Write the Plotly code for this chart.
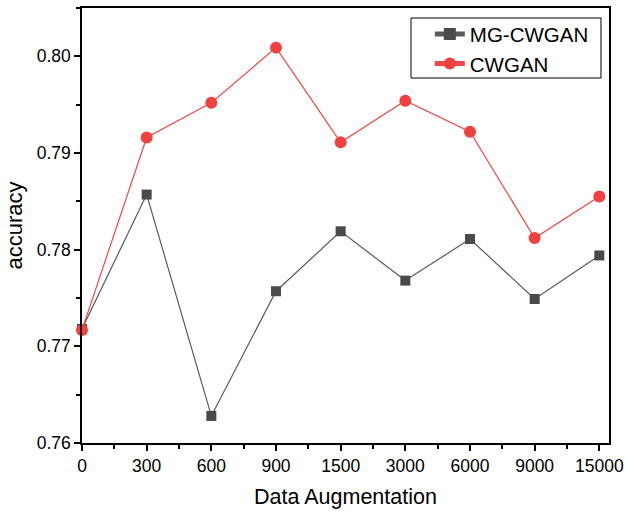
import plotly.graph_objects as go

categories = ["0", "300", "600", "900", "1500", "3000", "6000", "9000", "15000"]
mg_cwgan = [0.7718, 0.7857, 0.7628, 0.7757, 0.7819, 0.7768, 0.7811, 0.7749, 0.7794]
cwgan = [0.7717, 0.7916, 0.7952, 0.8009, 0.7911, 0.7954, 0.7922, 0.7812, 0.7855]
y_ticks = [0.76, 0.77, 0.78, 0.79, 0.80]

xs = list(range(len(categories)))
font = "Liberation Sans, Arial, sans-serif"

fig = go.Figure()
fig.add_trace(go.Scatter(
    x=xs, y=mg_cwgan, name="MG-CWGAN", mode="lines+markers",
    line=dict(color="#5a5a5a", width=1.2),
    marker=dict(symbol="square", size=10, color="#4a4a4a"),
    cliponaxis=False,
))
fig.add_trace(go.Scatter(
    x=xs, y=cwgan, name="CWGAN", mode="lines+markers",
    line=dict(color="#f04848", width=1.2),
    marker=dict(symbol="circle", size=12, color="#f04040"),
    cliponaxis=False,
))

axis_common = dict(
    showline=True, linecolor="black", linewidth=1.5, mirror=True,
    ticks="outside", ticklen=6, tickwidth=1.5, tickcolor="black",
    showgrid=False, zeroline=False, automargin=False,
    tickfont=dict(family=font, size=17.5, color="black"),
)

fig.update_xaxes(
    **axis_common,
    range=[0, 8.15],
    tickmode="array", tickvals=xs, ticktext=categories,
    minor=dict(tickmode="linear", tick0=0, dtick=0.5, ticks="outside",
               ticklen=4, tickwidth=1.5, tickcolor="black"),
    title=dict(text="Data Augmentation", font=dict(family=font, size=21.5, color="black"), standoff=14),
)
fig.update_yaxes(
    **axis_common,
    range=[0.76, 0.805],
    tickmode="array", tickvals=y_ticks, ticktext=[f"{v:.2f}" for v in y_ticks],
    minor=dict(tickmode="linear", tick0=0.755, dtick=0.005, ticks="outside",
               ticklen=4, tickwidth=1.5, tickcolor="black"),
    title=dict(text="accuracy", font=dict(family=font, size=22, color="black"), standoff=8),
)

# legend frame
fig.add_shape(type="rect", xref="paper", yref="paper",
              x0=0.6243, x1=0.9848, y0=0.839, y1=0.977,
              line=dict(color="black", width=1), fillcolor="white", layer="below")

fig.update_layout(
    width=625, height=515,
    margin=dict(l=82, r=16, t=8, b=72),
    paper_bgcolor="white", plot_bgcolor="white",
    showlegend=True,
    legend=dict(
        x=0.660, y=0.986, xanchor="left", yanchor="top",
        borderwidth=0, bgcolor="rgba(0,0,0,0)",
        font=dict(family=font, size=20.5, color="black"),
        tracegroupgap=0, itemsizing="constant",
    ),
)

fig.write_html("out.html")
